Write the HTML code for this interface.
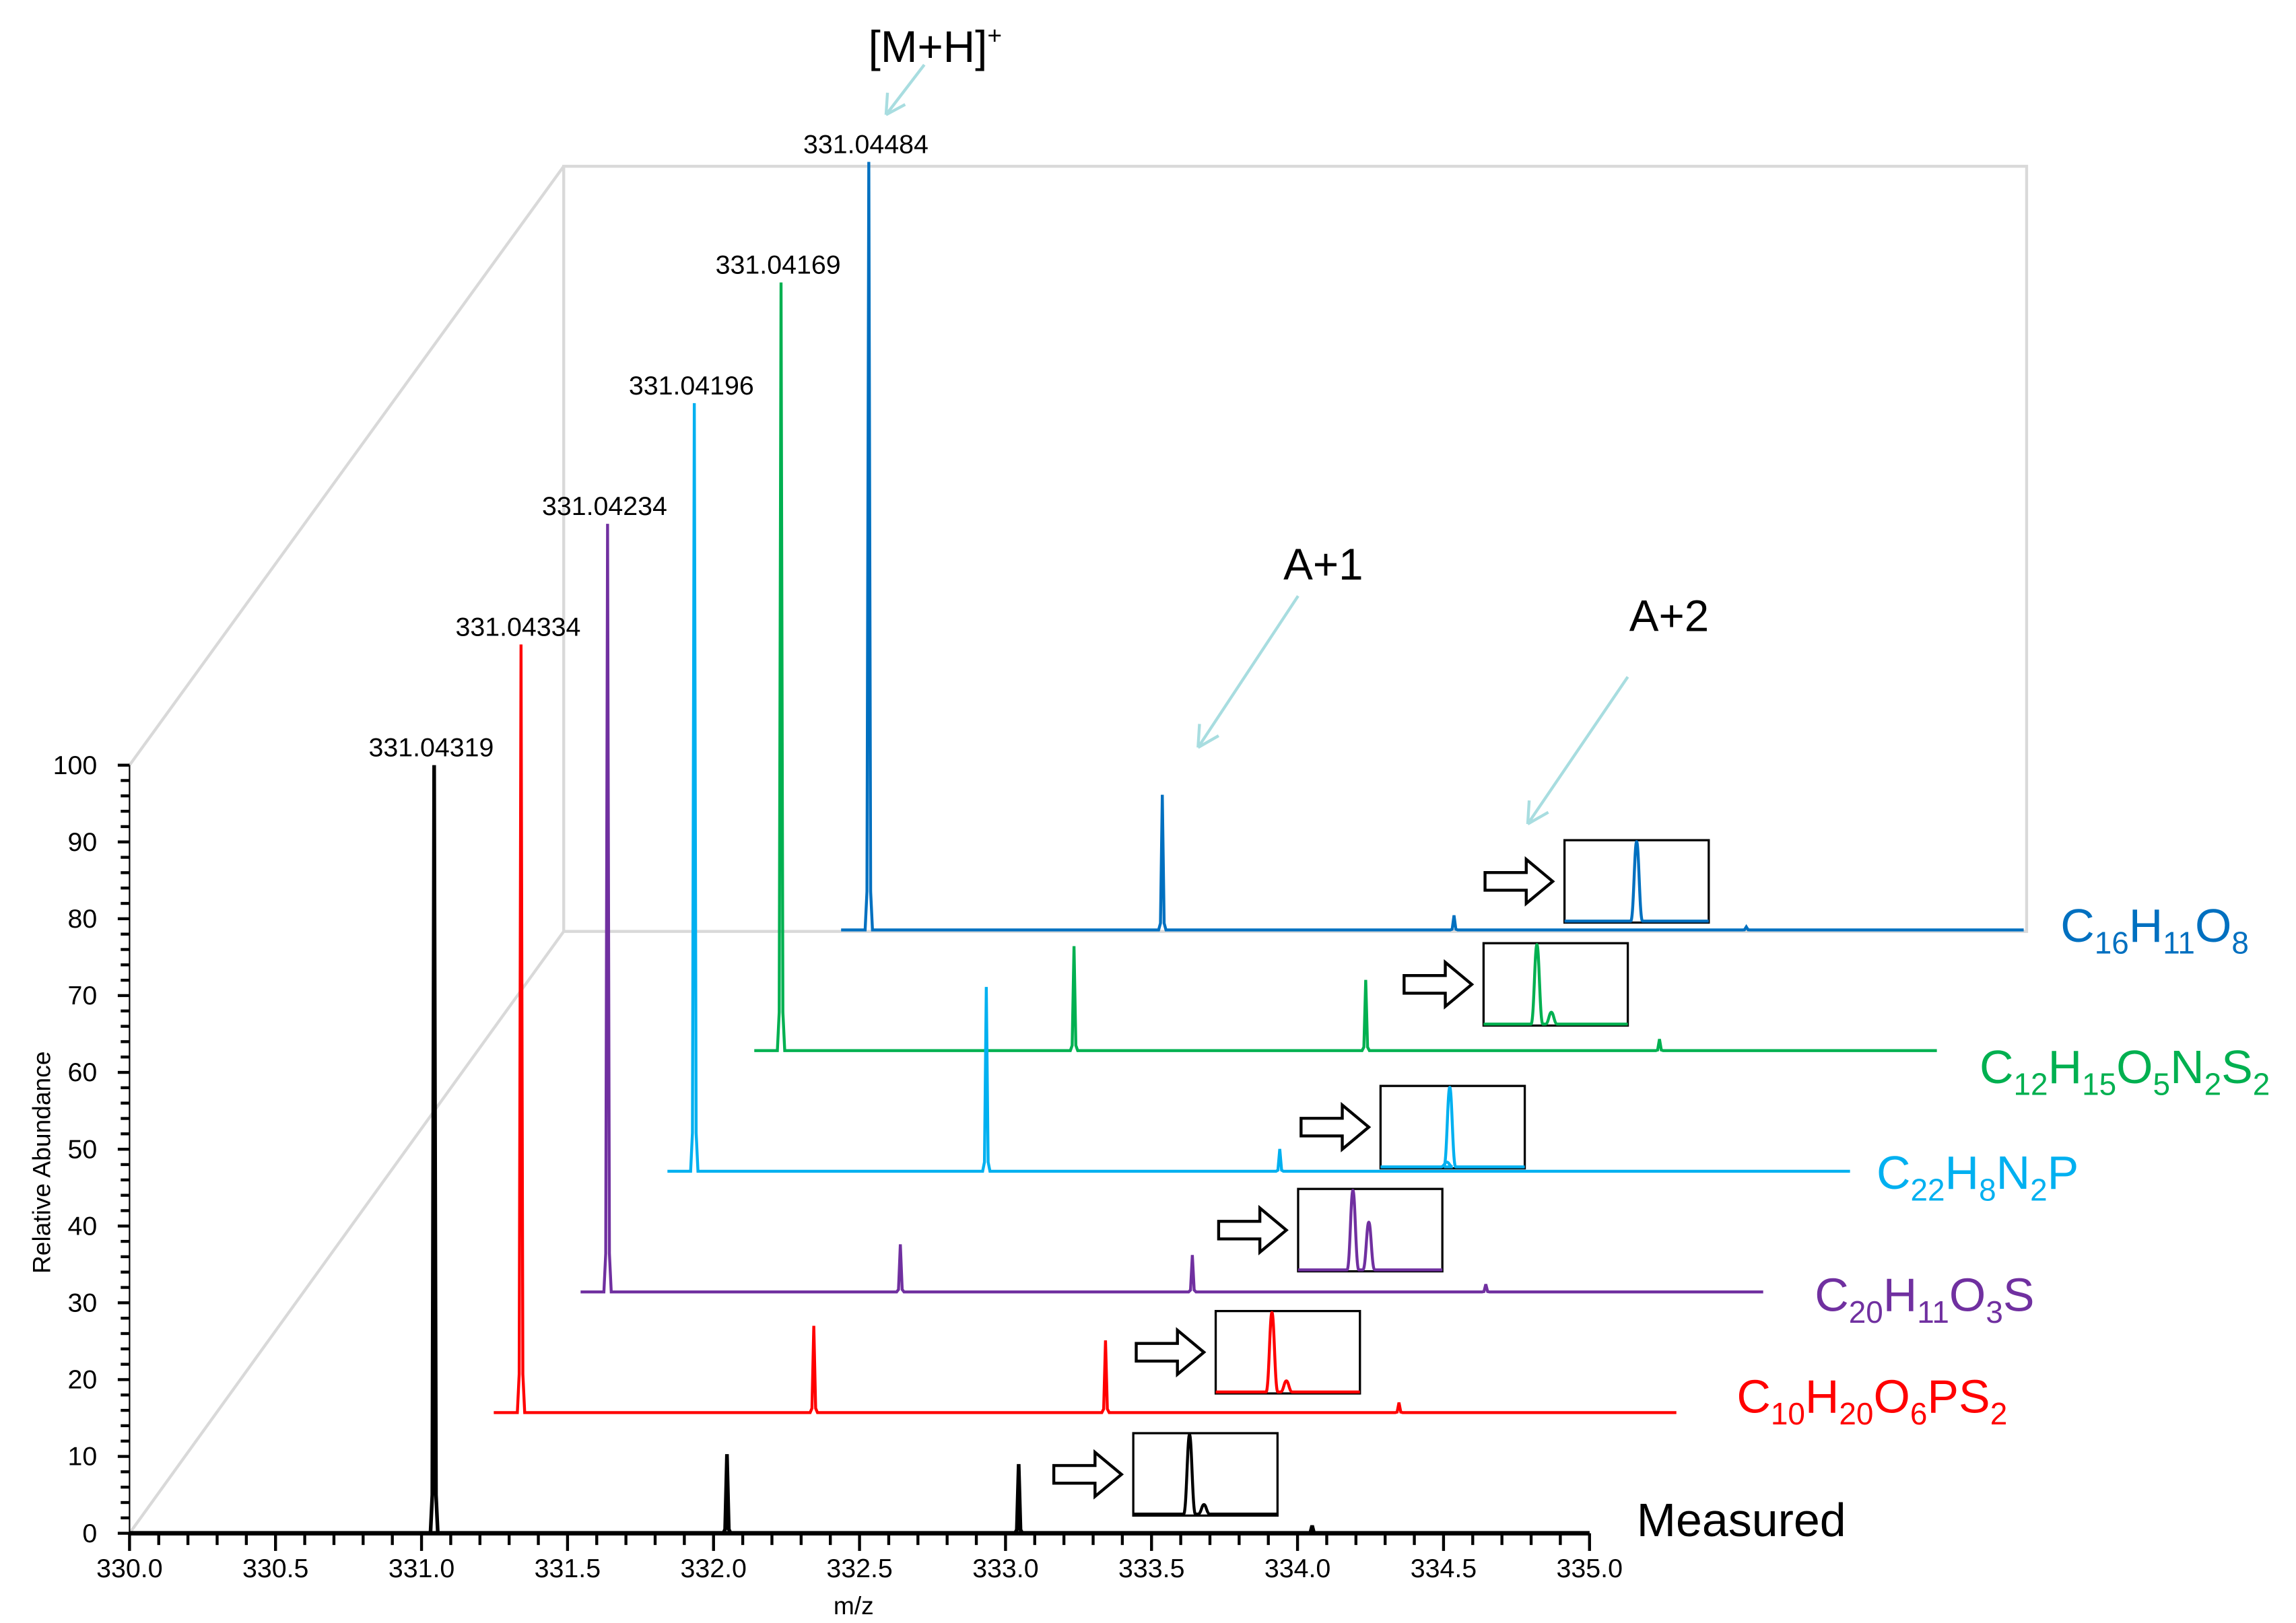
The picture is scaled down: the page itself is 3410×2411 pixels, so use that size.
<!DOCTYPE html>
<html><head><meta charset="utf-8"><style>
html,body{margin:0;padding:0;background:#fff}
svg{display:block}
text{font-family:"Liberation Sans",sans-serif}
</style></head><body>
<svg id="chart" xmlns="http://www.w3.org/2000/svg" width="3410" height="2411" viewBox="0 0 1560 1103">
<g id="frame" stroke="#d9d9d9" stroke-width="2" fill="none">
<rect x="383" y="113" width="994" height="520"/>
<line x1="88" y1="1042" x2="383" y2="633"/>
<line x1="88" y1="520" x2="383" y2="113"/>
</g>
<g id="axes"></g>
<g id="series"></g>
<g id="insets"></g>
<g id="annot">
<text x="590" y="42" font-size="30">[M+H]<tspan dy="-12" font-size="17">+</tspan></text>
<path d="M628,44 L602,78 M602,78 L603,63 M602,78 L615,71" stroke="#a8dde0" stroke-width="2" fill="none"/>
<text x="872" y="394" font-size="30">A+1</text>
<path d="M882,405 L814,508 M814,508 L815,492 M814,508 L828,500" stroke="#a8dde0" stroke-width="2" fill="none"/>
<text x="1107" y="429" font-size="30">A+2</text>
<path d="M1106,460 L1038,560 M1038,560 L1039,544 M1038,560 L1052,552" stroke="#a8dde0" stroke-width="2" fill="none"/>
<text x="1112" y="1044" font-size="32">Measured</text>
<text x="1400" y="640" font-size="32" fill="#0070c0">C<tspan font-size="21" dy="8">16</tspan><tspan dy="-8">H</tspan><tspan font-size="21" dy="8">11</tspan><tspan dy="-8">O</tspan><tspan font-size="21" dy="8">8</tspan></text>
<text x="1345" y="736" font-size="32" fill="#00b050">C<tspan font-size="21" dy="8">12</tspan><tspan dy="-8">H</tspan><tspan font-size="21" dy="8">15</tspan><tspan dy="-8">O</tspan><tspan font-size="21" dy="8">5</tspan><tspan dy="-8">N</tspan><tspan font-size="21" dy="8">2</tspan><tspan dy="-8">S</tspan><tspan font-size="21" dy="8">2</tspan></text>
<text x="1275" y="808" font-size="32" fill="#00b0f0">C<tspan font-size="21" dy="8">22</tspan><tspan dy="-8">H</tspan><tspan font-size="21" dy="8">8</tspan><tspan dy="-8">N</tspan><tspan font-size="21" dy="8">2</tspan><tspan dy="-8">P</tspan></text>
<text x="1233" y="891" font-size="32" fill="#7030a0">C<tspan font-size="21" dy="8">20</tspan><tspan dy="-8">H</tspan><tspan font-size="21" dy="8">11</tspan><tspan dy="-8">O</tspan><tspan font-size="21" dy="8">3</tspan><tspan dy="-8">S</tspan></text>
<text x="1180" y="960" font-size="32" fill="#ff0000">C<tspan font-size="21" dy="8">10</tspan><tspan dy="-8">H</tspan><tspan font-size="21" dy="8">20</tspan><tspan dy="-8">O</tspan><tspan font-size="21" dy="8">6</tspan><tspan dy="-8">PS</tspan><tspan font-size="21" dy="8">2</tspan></text>
</g>
</svg>
<script>
const NS="http://www.w3.org/2000/svg";
// data
const seriesNames=["measured","c10h20o6ps2","c20h11o3s","c22h8n2p","c12h15o5n2s2","c16h11o8"];
const seriesColors=["#000000","#ff0000","#7030a0","#00b0f0","#00b050","#0070c0"];
const mainMz=[331.04319,331.04334,331.04234,331.04196,331.04169,331.04484];
const mainLabels=["331.04319","331.04334","331.04234","331.04196","331.04169","331.04484"];
const mainInt=[100,100,100,100,100,100];
const a1Mz=[332.046,332.046,332.045,332.042,332.045,332.05];
const a1Int=[10.3,11.3,6.2,24,13.6,17.6];
const a2Mz=[333.045,333.045,333.045,333.047,333.044,333.049];
const a2Int=[9,9.4,4.8,2.9,9.2,1.9];
const a3Mz=[334.05,334.05,334.05,334.05,334.05,334.05];
const a3Int=[1,1.3,1,0,1.5,0.4];
const xTicks=[330.0,330.5,331.0,331.5,332.0,332.5,333.0,333.5,334.0,334.5,335.0];
const yTicks=[0,10,20,30,40,50,60,70,80,90,100];
const insetPeak1=[0.39,0.39,0.38,0.48,0.37,0.5];
const insetPeak1H=[1,1,1,1,1,1];
const insetPeak2=[0.49,0.49,0.49,0.46,0.47,0];
const insetPeak2H=[0.12,0.14,0.6,0.06,0.15,0];

const X0=88, X1=1080, Y0=1042, Y100=520;
const xs=m=>X0+(m-330)/5*(X1-X0);
const ys=v=>Y0-v/100*(Y0-Y100);
const offX=i=>i*59, offY=i=>-i*82;
function el(tag,attrs,parent){const e=document.createElementNS(NS,tag);for(const k in attrs)e.setAttribute(k,attrs[k]);parent.appendChild(e);return e;}

const ax=document.getElementById('axes');


const yl=el('line',{x1:X0,y1:Y0,x2:X0,y2:Y100},ax);


yl.setAttribute('stroke','#000');yl.setAttribute('stroke-width','1');
for(let v=0;v<=100;v+=2){const t=el('line',{x1:X0-(v%10===0?8:6),y1:ys(v),x2:X0,y2:ys(v),stroke:'#000','stroke-width':2},ax);

}
yTicks.forEach(v=>{const t=el('text',{x:66,y:ys(v)+6,'font-size':18,'text-anchor':'end'},ax);t.textContent=String(v);

});
const xl=el('line',{x1:X0,y1:Y0,x2:X1,y2:Y0,stroke:'#000','stroke-width':3},ax);


for(let k=0;k<=50;k++){const m=330+k*0.1;const major=k%5===0;const t=el('line',{x1:xs(m),y1:Y0,x2:xs(m),y2:Y0+(major?12:8),stroke:'#000','stroke-width':2},ax);

}
xTicks.forEach(m=>{const t=el('text',{x:xs(m),y:Y0+30,'font-size':18,'text-anchor':'middle'},ax);t.textContent=m.toFixed(1);

});
const xt=el('text',{x:580,y:1097,'font-size':17,'text-anchor':'middle'},ax);xt.textContent='m/z';


const yt=el('text',{x:0,y:0,'font-size':17,'text-anchor':'middle',transform:'translate(34,790) rotate(-90)'},ax);yt.textContent='Relative Abundance';



const sg=document.getElementById('series');


function peak(m,v,dx,dy,w){const x=xs(m)+dx,b=Y0+dy,t=ys(v)+dy;return ` L${x-w},${b} L${x-w*0.5},${b-(b-t)*0.05} L${x},${t} L${x+w*0.5},${b-(b-t)*0.05} L${x+w},${b}`;}
for(let i=5;i>=0;i--){
  const dx=offX(i),dy=offY(i),c=seriesColors[i];
  const start=i===0?330:330.95;
  const peaks=[[mainMz[i],mainInt[i]],[a1Mz[i],a1Int[i]],[a2Mz[i],a2Int[i]],[a3Mz[i],a3Int[i]]].filter(p=>p[1]>0).sort((a,b)=>a[0]-b[0]);
  let d=`M${xs(start)+dx},${Y0+dy}`;
  peaks.forEach(p=>{d+=peak(p[0],p[1],dx,dy,2.5);});
  d+=` L${xs(335)+dx},${Y0+dy}`;
  const p=el('path',{d:d,fill:'none',stroke:c,'stroke-width':i===0?2.5:2},sg);
  
  
  const lb=el('text',{x:xs(mainMz[i])+dx-2,y:ys(mainInt[i])+dy-6,'font-size':18,'text-anchor':'middle'},sg);
  lb.textContent=mainLabels[i];
  
  
}

const ig=document.getElementById('insets');


const boxX=[770,826,882,938,1008,1063], boxY=[974,891,808,738,641,571];
for(let i=0;i<6;i++){
  const bx=boxX[i],by=boxY[i],bw=98,bh=56,c=seriesColors[i];
  const ar=el('path',{d:`M${bx-54},${by+22} h28 v-9 l18,15 l-18,15 v-9 h-28 z`,fill:'#fff',stroke:'#000','stroke-width':2},ig);
  
  
  const r=el('rect',{x:bx,y:by,width:bw,height:bh,fill:'#fff',stroke:'#000','stroke-width':1.5},ig);
  
  
  const base=by+bh-1;
  let d=`M${bx},${base}`;
  const pk=[[insetPeak1[i],insetPeak1H[i]],[insetPeak2[i],insetPeak2H[i]]].filter(p=>p[1]>0).sort((a,b)=>a[0]-b[0]);
  pk.forEach(p=>{const x=bx+p[0]*bw,t=base-p[1]*(bh-2);d+=` L${x-4},${base} C${x-2},${base} ${x-1.5},${t} ${x},${t} C${x+1.5},${t} ${x+2},${base} ${x+4},${base}`;});
  d+=` L${bx+bw},${base}`;
  const ip=el('path',{d:d,fill:'none',stroke:c,'stroke-width':2},ig);
  
  
}
</script>
</body></html>
